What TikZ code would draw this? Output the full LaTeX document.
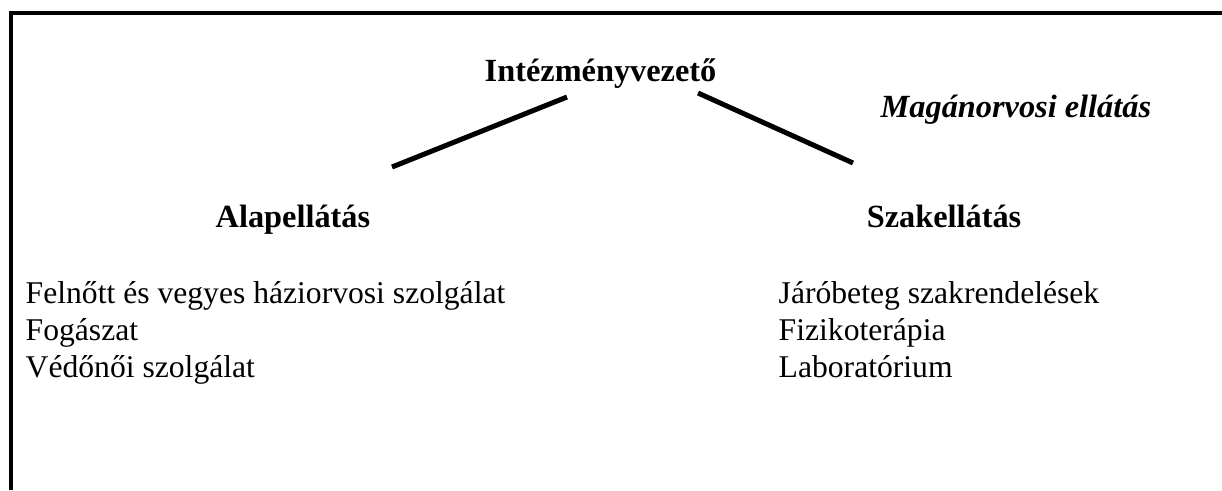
\documentclass[tikz,border=0pt]{standalone}
\usepackage{fontspec}
\setmainfont{Liberation Serif}
\usepackage{tikz}
\usetikzlibrary{positioning}

\tikzset{
    head/.style={font=\fontsize{9.2}{11}\selectfont\bfseries, inner sep=0pt},
    item/.style={font=\fontsize{9}{11}\selectfont, inner sep=0pt},
    branch/.style={line width=0.05cm, black}
}

\begin{document}
\begin{tikzpicture}
    \useasboundingbox (0,0) rectangle (12.22,4.90);

    % Frame (top and left edge only)
    \draw[line width=0.04cm] (0.11,0) -- (0.11,4.775) -- (12.22,4.775);

    % Top of the tree
    \node[head, anchor=base west] (vez) at (4.84,4.09) {Intézményvezető};
    \node[head, anchor=base west, font=\fontsize{9.2}{11}\selectfont\bfseries\itshape] (magan) at (8.80,3.73) {Magánorvosi ellátás};

    % Two branches
    \node[head, anchor=base west] (alap) at (2.15,2.63) {Alapellátás};
    \node[head, anchor=base east] (szak) at (10.22,2.63) {Szakellátás};

    % Connector ends
    \coordinate (vezL) at (5.67,3.93);
    \coordinate (vezR) at (6.98,3.97);
    \coordinate (alapT) at (3.92,3.23);
    \coordinate (szakT) at (8.53,3.27);
    \draw[branch] (vezL) -- (alapT);
    \draw[branch] (vezR) -- (szakT);

    % Services, left
    \node[item, anchor=base west] (felnott) at (0.25,1.87) {Felnőtt és vegyes háziorvosi szolgálat};
    \node[item, anchor=base west] (fog) at ([yshift=-0.37cm]felnott.base west) {Fogászat};
    \node[item, anchor=base west] (vedo) at ([yshift=-0.37cm]fog.base west) {Védőnői szolgálat};

    % Services, right
    \node[item, anchor=base west] (jaro) at (7.78,1.87) {Járóbeteg szakrendelések};
    \node[item, anchor=base west] (fizio) at ([yshift=-0.37cm]jaro.base west) {Fizikoterápia};
    \node[item, anchor=base west] (labor) at ([yshift=-0.37cm]fizio.base west) {Laboratórium};

\end{tikzpicture}
\end{document}
